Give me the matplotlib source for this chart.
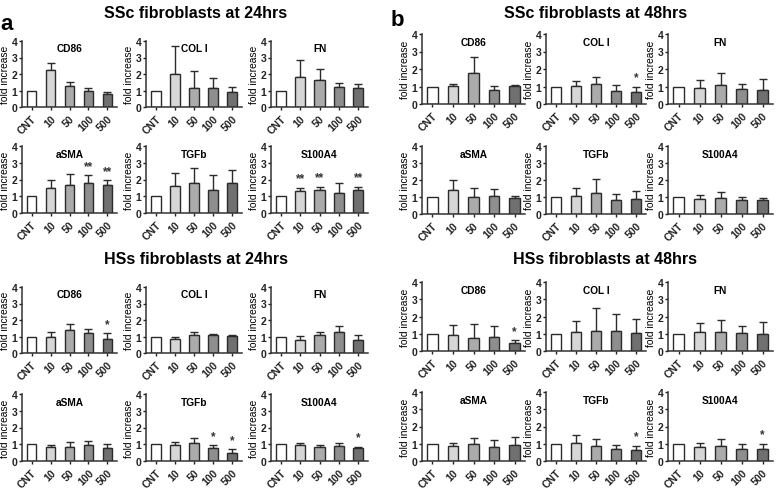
import numpy as np
from matplotlib import pyplot as plt

plt.rcParams['font.family'] = ['Liberation Sans', 'DejaVu Sans']
plt.rcParams['font.weight'] = 'bold'

doses = ["CNT", "10", "50", "100", "500"]
genes = ["CD86", "COL I", "FN", "aSMA", "TGFb", "S100A4"]

# SSc fibroblasts 24hrs (panel a top)
ssc24_mean = [[1, 2.25, 1.25, 0.95, 0.80],
              [1, 2.00, 1.18, 1.15, 0.90],
              [1, 1.80, 1.65, 1.20, 1.17],
              [1, 1.47, 1.67, 1.78, 1.65],
              [1, 1.62, 1.82, 1.35, 1.77],
              [1, 1.33, 1.37, 1.18, 1.38]]
ssc24_err = [[0, 0.43, 0.25, 0.20, 0.13],
             [0, 1.70, 1.02, 0.60, 0.30],
             [0, 1.03, 0.63, 0.27, 0.25],
             [0, 0.48, 0.66, 0.47, 0.30],
             [0, 0.75, 0.88, 0.90, 0.78],
             [0, 0.17, 0.20, 0.59, 0.19]]
ssc24_sig = [["", "", "", "", ""], ["", "", "", "", ""], ["", "", "", "", ""],
             ["", "", "", "**", "**"], ["", "", "", "", ""], ["", "**", "**", "", "**"]]

# HSs fibroblasts 24hrs (panel a bottom)
hss24_mean = [[1, 0.95, 1.38, 1.20, 0.87],
              [1, 0.82, 1.12, 1.07, 1.03],
              [1, 0.80, 1.07, 1.25, 0.80],
              [1, 0.82, 0.85, 0.93, 0.80],
              [1, 0.93, 1.07, 0.80, 0.45],
              [1, 0.95, 0.82, 0.92, 0.75]]
hss24_err = [[0, 0.35, 0.39, 0.28, 0.33],
             [0, 0.16, 0.18, 0.11, 0.07],
             [0, 0.22, 0.18, 0.37, 0.28],
             [0, 0.16, 0.27, 0.25, 0.23],
             [0, 0.20, 0.28, 0.13, 0.25],
             [0, 0.10, 0.15, 0.15, 0.10]]
hss24_sig = [["", "", "", "", "*"], ["", "", "", "", ""], ["", "", "", "", ""],
             ["", "", "", "", ""], ["", "", "", "*", "*"], ["", "", "", "", "*"]]

# SSc fibroblasts 48hrs (panel b top)
ssc48_mean = [[1, 1.05, 1.80, 0.80, 1.02],
              [1, 1.03, 1.12, 0.75, 0.70],
              [1, 0.93, 1.08, 0.85, 0.80],
              [1, 1.40, 1.00, 1.05, 0.95],
              [1, 1.05, 1.22, 0.82, 0.87],
              [1, 0.88, 0.95, 0.82, 0.83]]
ssc48_err = [[0, 0.10, 0.90, 0.23, 0.08],
             [0, 0.27, 0.43, 0.33, 0.27],
             [0, 0.44, 0.72, 0.30, 0.62],
             [0, 0.60, 0.53, 0.45, 0.08],
             [0, 0.48, 0.83, 0.38, 0.48],
             [0, 0.22, 0.33, 0.20, 0.12]]
ssc48_sig = [["", "", "", "", ""], ["", "", "", "", "*"], ["", "", "", "", ""],
             ["", "", "", "", ""], ["", "", "", "", ""], ["", "", "", "", ""]]

# HSs fibroblasts 48hrs (panel b bottom)
hss48_mean = [[1, 0.93, 0.77, 0.80, 0.47],
              [1, 1.08, 1.18, 1.18, 1.03],
              [1, 1.08, 1.10, 1.03, 0.98],
              [1, 0.88, 0.97, 0.82, 0.90],
              [1, 1.03, 0.85, 0.68, 0.65],
              [1, 0.82, 0.88, 0.70, 0.72]]
hss48_err = [[0, 0.57, 0.78, 0.63, 0.16],
             [0, 0.67, 1.32, 0.97, 0.85],
             [0, 0.52, 0.70, 0.44, 0.72],
             [0, 0.14, 0.38, 0.38, 0.47],
             [0, 0.45, 0.42, 0.27, 0.23],
             [0, 0.20, 0.40, 0.30, 0.28]]
hss48_sig = [["", "", "", "", "*"], ["", "", "", "", ""], ["", "", "", "", ""],
             ["", "", "", "", ""], ["", "", "", "", "*"], ["", "", "", "", "*"]]

bar_colors = ["white", "#d6d6d6", "#ababab", "#8e8e8e", "#707070"]
edge = "#2b2b2b"

W, H = 778, 489
fig = plt.figure(figsize=(W / 100, H / 100), dpi=100)


def px_axes(left, top, width, bottom):
    return fig.add_axes([left / W, 1 - bottom / H, width / W, (bottom - top) / H])


def draw(ax, title, mean, err, sig):
    x = np.arange(len(doses))
    ax.bar(x, mean, width=0.52, color=bar_colors, edgecolor=edge, linewidth=1.0, zorder=2)
    up = np.array(err)
    m = up > 0
    ax.errorbar(x[m], np.array(mean)[m], yerr=[np.zeros(m.sum()), up[m]], fmt="none",
                ecolor=edge, elinewidth=1.0, capsize=2.6, capthick=1.0, zorder=1)
    for i, s in enumerate(sig):
        if s:
            ax.text(i, mean[i] + err[i] + 0.2, s, ha="center", va="bottom",
                    fontsize=8.5, color="#333333")
    ax.set_xlim(-0.5, 4.5)
    ax.set_ylim(0, 4)
    ax.set_yticks([0, 1, 2, 3, 4])
    ax.set_xticks(x)
    ax.set_xticklabels(doses, rotation=45, ha="right", rotation_mode="anchor")
    ax.tick_params(axis="both", labelsize=7.5, length=2.2, width=1.0, pad=1, colors="#222222")
    ax.tick_params(axis="x", pad=2)
    for s in ["top", "right"]:
        ax.spines[s].set_visible(False)
    for s in ["left", "bottom"]:
        ax.spines[s].set_linewidth(1.1)
        ax.spines[s].set_color("#333333")
    ax.set_ylabel("fold increase", fontsize=7.4, labelpad=1)
    ax.text(2.0, 3.55, title, ha="center", va="center", fontsize=7.3)


# panel a/b: column (left, width), row (top, bottom) in pixels
a_cols = [(22, 95), (146, 96), (271, 97)]
a_rows = [(42, 108), (147, 214), (288, 354), (395, 462)]
b_cols = [(422, 103), (546, 100), (668, 105)]
b_rows = [(35, 105), (147, 215), (283, 352), (393, 462)]

groups = [(a_cols, a_rows[:2], ssc24_mean, ssc24_err, ssc24_sig),
          (a_cols, a_rows[2:], hss24_mean, hss24_err, hss24_sig),
          (b_cols, b_rows[:2], ssc48_mean, ssc48_err, ssc48_sig),
          (b_cols, b_rows[2:], hss48_mean, hss48_err, hss48_sig)]

for cols, rows, means, errs, sigs in groups:
    for k in range(6):
        left, width = cols[k % 3]
        top, bottom = rows[k // 3]
        ax = px_axes(left, top, width, bottom)
        draw(ax, genes[k], means[k], errs[k], sigs[k])

fig.text(196 / W, 1 - 13 / H, "SSc fibroblasts at 24hrs", ha="center", va="center", fontsize=11.5)
fig.text(196 / W, 1 - 260 / H, "HSs fibroblasts at 24hrs", ha="center", va="center", fontsize=11.5)
fig.text(596 / W, 1 - 13 / H, "SSc fibroblasts at 48hrs", ha="center", va="center", fontsize=11.5)
fig.text(605 / W, 1 - 260 / H, "HSs fibroblasts at 48hrs", ha="center", va="center", fontsize=11.5)
fig.text(7 / W, 1 - 24 / H, "a", ha="center", va="center", fontsize=16)
fig.text(397 / W, 1 - 20 / H, "b", ha="center", va="center", fontsize=16)

plt.savefig("out.png", dpi=100)
